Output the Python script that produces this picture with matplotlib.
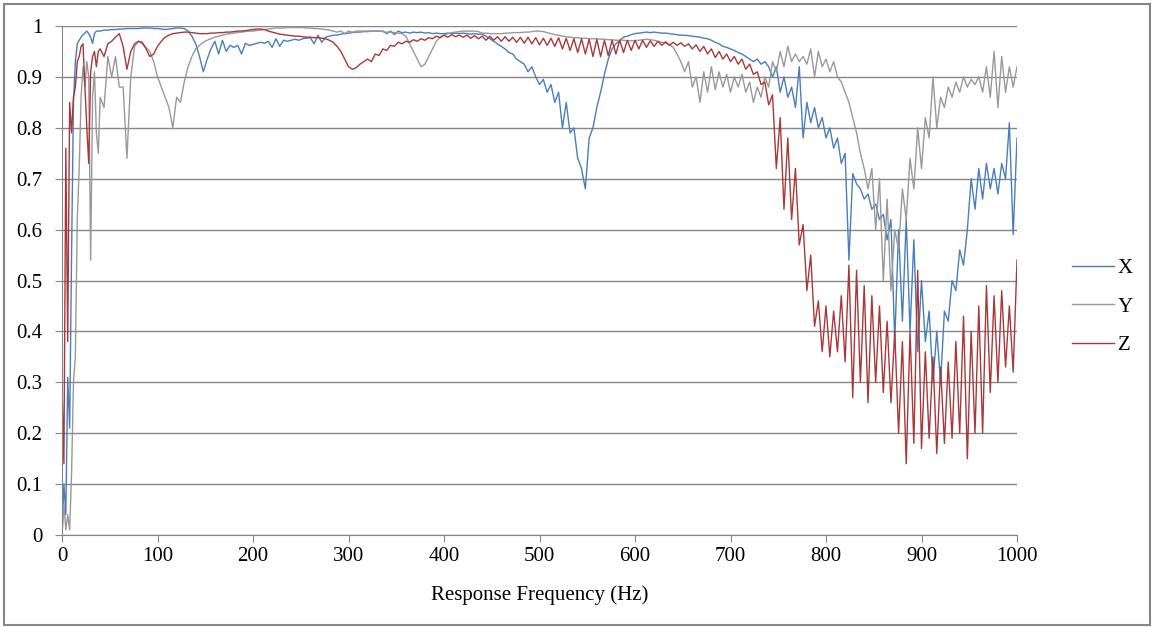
import numpy as np
import matplotlib
matplotlib.use("Agg")
import matplotlib.pyplot as plt
from matplotlib.patches import Rectangle

plt.rcParams['font.family'] = ['Liberation Serif', 'DejaVu Serif']

# frequency grid: 2 Hz steps up to 38 Hz, then 4 Hz steps up to 1000 Hz
freq = np.concatenate([np.arange(0, 40, 2), np.arange(40, 1001, 4)])

x_vals = [
    # 0-38 (step 2)
    0.0, 0.1, 0.04, 0.31, 0.21, 0.55, 0.85, 0.93, 0.965, 0.972,
    0.978, 0.983, 0.986, 0.99, 0.985, 0.978, 0.966, 0.985, 0.99, 0.99,
    # 40-76
    0.99, 0.992, 0.992, 0.993, 0.993, 0.994, 0.994, 0.995, 0.995, 0.995,
    # 80-116
    0.995, 0.996, 0.996, 0.996, 0.995, 0.995, 0.994, 0.993, 0.994, 0.995,
    # 120-156
    0.996, 0.996, 0.995, 0.99, 0.98, 0.965, 0.94, 0.91, 0.935, 0.955,
    # 160-196
    0.97, 0.945, 0.972, 0.95, 0.962, 0.958, 0.962, 0.945, 0.966, 0.962,
    # 200-236
    0.964, 0.966, 0.968, 0.966, 0.97, 0.958, 0.975, 0.96, 0.972, 0.97,
    # 240-276
    0.972, 0.974, 0.972, 0.975, 0.976, 0.977, 0.965, 0.982, 0.968, 0.978,
    # 280-316
    0.98, 0.982, 0.982, 0.984, 0.985, 0.986, 0.987, 0.988, 0.988, 0.989,
    # 320-356
    0.989, 0.99, 0.99, 0.99, 0.99, 0.985, 0.99, 0.983, 0.99, 0.987,
    # 360-396
    0.988, 0.986, 0.988, 0.987, 0.988, 0.986, 0.987, 0.985, 0.986, 0.985,
    # 400-436
    0.985, 0.986, 0.985, 0.986, 0.985, 0.986, 0.985, 0.984, 0.985, 0.984,
    # 440-476
    0.984, 0.98, 0.975, 0.97, 0.965, 0.96, 0.955, 0.948, 0.945, 0.935,
    # 480-516
    0.93, 0.925, 0.91, 0.92, 0.9, 0.885, 0.895, 0.87, 0.885, 0.85,
    # 520-556
    0.87, 0.80, 0.85, 0.79, 0.80, 0.74, 0.72, 0.68, 0.78, 0.80,
    # 560-596
    0.84, 0.87, 0.905, 0.935, 0.955, 0.965, 0.972, 0.978, 0.98, 0.983,
    # 600-636
    0.985, 0.986, 0.987, 0.988, 0.987, 0.988, 0.987, 0.986, 0.986, 0.985,
    # 640-676
    0.984, 0.983, 0.982, 0.982, 0.981, 0.98, 0.979, 0.978, 0.976, 0.975,
    # 680-716
    0.972, 0.968, 0.965, 0.96, 0.958, 0.955, 0.952, 0.948, 0.945, 0.94,
    # 720-756
    0.935, 0.93, 0.935, 0.925, 0.93, 0.92, 0.90, 0.92, 0.87, 0.90,
    # 760-796
    0.86, 0.88, 0.84, 0.92, 0.78, 0.85, 0.81, 0.84, 0.80, 0.82,
    # 800-836
    0.78, 0.80, 0.76, 0.78, 0.73, 0.75, 0.54, 0.71, 0.69, 0.68,
    # 840-876
    0.66, 0.67, 0.64, 0.65, 0.62, 0.63, 0.58, 0.62, 0.38, 0.60,
    # 880-916
    0.42, 0.62, 0.40, 0.58, 0.36, 0.50, 0.38, 0.44, 0.30, 0.40,
    # 920-956
    0.30, 0.44, 0.42, 0.50, 0.48, 0.56, 0.53, 0.60, 0.70, 0.64,
    # 960-996
    0.72, 0.66, 0.73, 0.68, 0.72, 0.67, 0.73, 0.70, 0.81, 0.59,
    # 1000
    0.78,
]

y_vals = [
    # 0-38 (step 2)
    0.0, 0.06, 0.01, 0.04, 0.01, 0.12, 0.30, 0.35, 0.62, 0.72,
    0.86, 0.92, 0.88, 0.93, 0.90, 0.54, 0.86, 0.91, 0.79, 0.75,
    # 40-76
    0.86, 0.84, 0.94, 0.90, 0.94, 0.88, 0.88, 0.74, 0.90, 0.96,
    # 80-116
    0.97, 0.965, 0.958, 0.95, 0.93, 0.90, 0.88, 0.86, 0.84, 0.80,
    # 120-156
    0.86, 0.85, 0.89, 0.92, 0.94, 0.955, 0.962, 0.968, 0.972, 0.975,
    # 160-196
    0.978, 0.98, 0.982, 0.984, 0.985, 0.986, 0.987, 0.988, 0.989, 0.99,
    # 200-236
    0.99, 0.991, 0.992, 0.993, 0.994, 0.995, 0.996, 0.996, 0.996, 0.997,
    # 240-276
    0.997, 0.997, 0.997, 0.997, 0.996, 0.996, 0.995, 0.995, 0.994, 0.993,
    # 280-316
    0.992, 0.99, 0.988, 0.99, 0.985, 0.99, 0.988, 0.99, 0.99, 0.99,
    # 320-356
    0.99, 0.99, 0.99, 0.99, 0.989, 0.988, 0.988, 0.987, 0.986, 0.985,
    # 360-396
    0.98, 0.965, 0.95, 0.935, 0.92, 0.925, 0.94, 0.955, 0.97, 0.978,
    # 400-436
    0.982, 0.985, 0.987, 0.988, 0.989, 0.99, 0.99, 0.99, 0.99, 0.989,
    # 440-476
    0.986, 0.986, 0.985, 0.985, 0.985, 0.985, 0.986, 0.986, 0.987, 0.987,
    # 480-516
    0.987, 0.988, 0.988, 0.989, 0.99, 0.99, 0.989, 0.987, 0.985, 0.983,
    # 520-556
    0.982, 0.98, 0.979, 0.978, 0.977, 0.977, 0.976, 0.976, 0.975, 0.975,
    # 560-596
    0.975, 0.974, 0.974, 0.973, 0.973, 0.972, 0.972, 0.972, 0.971, 0.971,
    # 600-636
    0.971, 0.972, 0.973, 0.974, 0.973, 0.972, 0.97, 0.968, 0.966, 0.964,
    # 640-676
    0.958, 0.945, 0.93, 0.91, 0.93, 0.88, 0.90, 0.85, 0.91, 0.87,
    # 680-716
    0.92, 0.875, 0.91, 0.88, 0.905, 0.87, 0.90, 0.88, 0.905, 0.87,
    # 720-756
    0.89, 0.85, 0.88, 0.86, 0.90, 0.88, 0.93, 0.91, 0.95, 0.92,
    # 760-796
    0.96, 0.93, 0.945, 0.93, 0.94, 0.925, 0.955, 0.90, 0.95, 0.92,
    # 800-836
    0.935, 0.91, 0.93, 0.90, 0.89, 0.87, 0.85, 0.82, 0.79, 0.75,
    # 840-876
    0.72, 0.68, 0.72, 0.60, 0.70, 0.50, 0.66, 0.48, 0.60, 0.56,
    # 880-916
    0.68, 0.62, 0.74, 0.68, 0.80, 0.72, 0.82, 0.78, 0.90, 0.80,
    # 920-956
    0.86, 0.84, 0.88, 0.86, 0.89, 0.87, 0.90, 0.88, 0.895, 0.885,
    # 960-996
    0.90, 0.87, 0.92, 0.86, 0.95, 0.84, 0.94, 0.87, 0.92, 0.88,
    # 1000
    0.92,
]

z_vals = [
    # 0-38 (step 2)
    0.29, 0.14, 0.76, 0.38, 0.85, 0.79, 0.86, 0.88, 0.93, 0.94,
    0.96, 0.965, 0.88, 0.80, 0.73, 0.91, 0.94, 0.95, 0.92, 0.95,
    # 40-76
    0.955, 0.94, 0.965, 0.97, 0.978, 0.985, 0.96, 0.915, 0.95, 0.965,
    # 80-116
    0.97, 0.968, 0.955, 0.94, 0.945, 0.96, 0.97, 0.978, 0.982, 0.985,
    # 120-156
    0.986, 0.987, 0.988, 0.988, 0.987, 0.986, 0.985, 0.985, 0.985, 0.986,
    # 160-196
    0.986, 0.987, 0.987, 0.988, 0.988, 0.989, 0.99, 0.99, 0.991, 0.992,
    # 200-236
    0.993, 0.994, 0.994, 0.993, 0.99, 0.988, 0.986, 0.984, 0.983, 0.982,
    # 240-276
    0.981, 0.98, 0.98, 0.979, 0.978, 0.978, 0.977, 0.977, 0.976, 0.975,
    # 280-316
    0.972, 0.968, 0.96, 0.95, 0.935, 0.92, 0.915, 0.918, 0.925, 0.93,
    # 320-356
    0.935, 0.93, 0.945, 0.942, 0.955, 0.952, 0.962, 0.96, 0.968, 0.965,
    # 360-396
    0.97, 0.968, 0.973, 0.97, 0.975, 0.972, 0.977, 0.975, 0.98, 0.977,
    # 400-436
    0.982, 0.978, 0.983, 0.979, 0.982, 0.978, 0.982, 0.976, 0.981, 0.975,
    # 440-476
    0.98, 0.972, 0.98, 0.972, 0.979, 0.97, 0.979, 0.97, 0.978, 0.968,
    # 480-516
    0.978, 0.966, 0.978, 0.965, 0.977, 0.963, 0.976, 0.962, 0.976, 0.96,
    # 520-556
    0.977, 0.955, 0.976, 0.952, 0.975, 0.948, 0.975, 0.945, 0.974, 0.94,
    # 560-596
    0.974, 0.94, 0.972, 0.942, 0.972, 0.945, 0.972, 0.948, 0.972, 0.952,
    # 600-636
    0.972, 0.955, 0.972, 0.958, 0.971, 0.96, 0.97, 0.962, 0.969, 0.962,
    # 640-676
    0.968, 0.962, 0.967, 0.96, 0.965, 0.955, 0.963, 0.95, 0.96, 0.945,
    # 680-716
    0.955, 0.938, 0.95, 0.935, 0.945, 0.93, 0.94, 0.925, 0.935, 0.915,
    # 720-756
    0.925, 0.905, 0.91, 0.885, 0.89, 0.845, 0.865, 0.72, 0.82, 0.64,
    # 760-796
    0.78, 0.62, 0.72, 0.57, 0.61, 0.48, 0.55, 0.41, 0.46, 0.36,
    # 800-836
    0.45, 0.35, 0.44, 0.36, 0.47, 0.34, 0.53, 0.27, 0.52, 0.30,
    # 840-876
    0.49, 0.26, 0.47, 0.30, 0.45, 0.28, 0.42, 0.26, 0.40, 0.20,
    # 880-916
    0.38, 0.14, 0.40, 0.18, 0.52, 0.17, 0.36, 0.19, 0.35, 0.16,
    # 920-956
    0.33, 0.18, 0.34, 0.19, 0.38, 0.20, 0.43, 0.15, 0.40, 0.20,
    # 960-996
    0.45, 0.20, 0.49, 0.28, 0.47, 0.30, 0.48, 0.33, 0.45, 0.32,
    # 1000
    0.54,
]

series_names = ['X', 'Y', 'Z']
series_colors = ['#4A7EBB', '#999999', '#A8383A']

assert len(x_vals) == len(freq) and len(y_vals) == len(freq) and len(z_vals) == len(freq)

fig = plt.figure(figsize=(11.52, 6.27), dpi=100)
ax = fig.add_axes([62 / 1152, 1 - 535 / 627, (1017 - 62) / 1152, (535 - 26) / 627])

for vals, name, col in zip([x_vals, y_vals, z_vals], series_names, series_colors):
    ax.plot(freq, vals, color=col, lw=1.0, label=name)

ax.set_xlim(0, 1000)
ax.set_ylim(0, 1)
ax.set_xticks(np.arange(0, 1001, 100))
ax.set_yticks(np.arange(0, 1.01, 0.1))
ax.set_yticklabels(['0'] + ['%.1f' % v for v in np.arange(0.1, 0.95, 0.1)] + ['1'])
ax.yaxis.grid(True, color='#868686', lw=1)
ax.set_axisbelow(True)
for s in ['top', 'right']:
    ax.spines[s].set_visible(False)
for s in ['left', 'bottom']:
    ax.spines[s].set_color('#868686')
ax.tick_params(axis='both', colors='#868686', labelcolor='black', labelsize=15, length=5, direction='out')
ax.tick_params(axis='y', pad=9)
ax.set_xlabel('Response Frequency (Hz)', fontsize=15, labelpad=14)

fig.legend(loc='center left', bbox_to_anchor=(1072 / 1152, 1 - 307 / 627), frameon=False,
           fontsize=15, handlelength=2.0, handletextpad=0.2, labelspacing=0.9,
           borderpad=0, borderaxespad=0)

fig.patches.append(Rectangle((4 / 1152, 2 / 627), 1146 / 1152, 621 / 627, transform=fig.transFigure,
                             fill=False, edgecolor='#868686', lw=1.5))

fig.savefig('out.png', dpi=100)
